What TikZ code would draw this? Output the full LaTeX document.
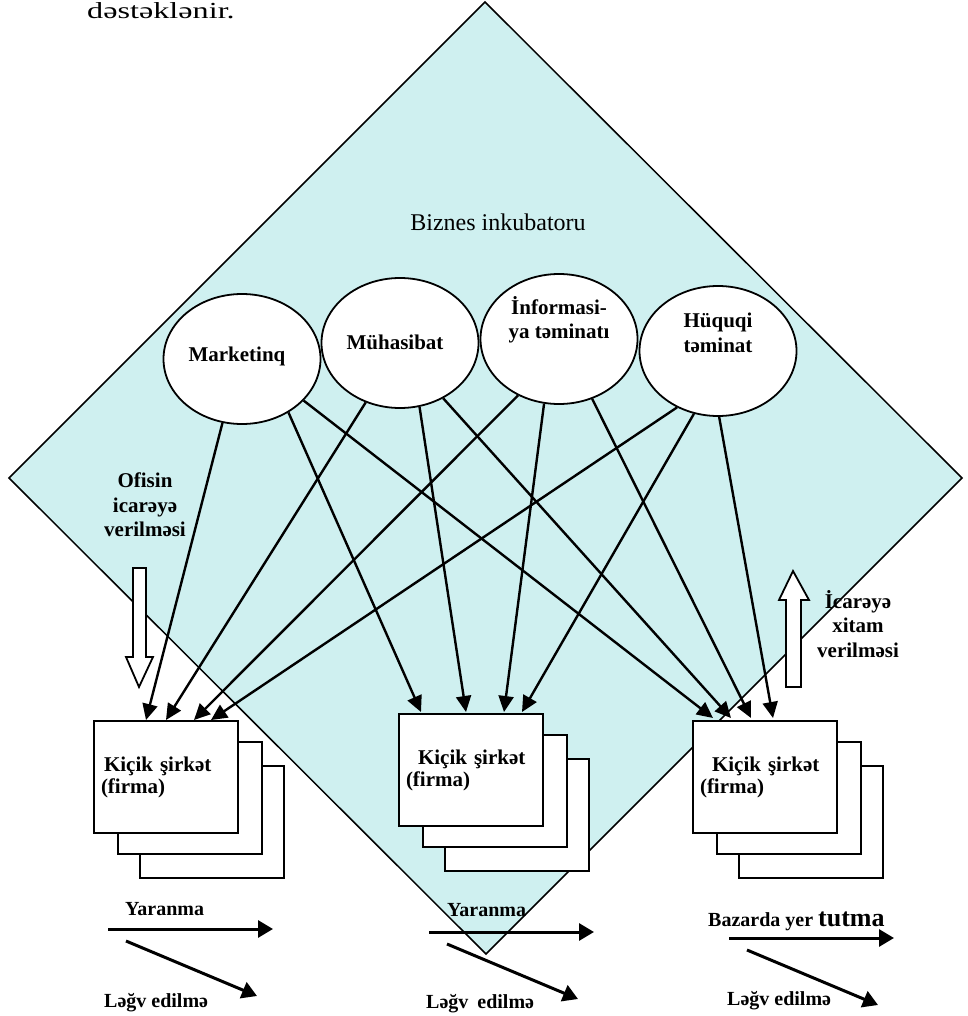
\documentclass[tikz,border=0pt]{standalone}
\usepackage{fontspec}
\setmainfont{Liberation Serif}
\usetikzlibrary{shapes.geometric,arrows.meta}

\definecolor{incub}{RGB}{207,240,240}

\tikzset{
  ell/.style={ellipse, draw, line width=1.8pt, fill=white, minimum width=157pt, minimum height=130pt, inner sep=0pt},
  firm/.style={rectangle, draw, line width=2pt, fill=white, minimum width=144pt, minimum height=112pt,
    text width=130pt, inner xsep=7pt, align=left, font=\bfseries\fontsize{21}{22}\selectfont},
  lbl/.style={font=\bfseries\fontsize{21}{24.5}\selectfont, align=center, inner sep=0pt},
  stagetxt/.style={font=\bfseries\fontsize{20}{24}\selectfont, inner sep=0pt, anchor=base west},
  feed/.style={line width=2.4pt, -{Triangle[length=16pt,width=15pt]}},
  stagearr/.style={line width=3pt, -{Triangle[length=15pt,width=17pt]}},
  blockarr/.style={draw, line width=1.8pt, fill=white}
}

\begin{document}
\begin{tikzpicture}[x=1pt, y=-1pt]
\useasboundingbox (0,0) rectangle (967,1016);

% the incubator
\filldraw[fill=incub, line width=1.5pt] (485,2) -- (962,478) -- (486,954) -- (9,478) -- cycle;
\node[anchor=base west, inner sep=0pt, font=\fontsize{23}{26}\selectfont] (prev) at (87,19) {\scalebox{1.4}[1]{dəstəklənir.}};
\node[anchor=base, inner sep=0pt, font=\fontsize{24}{28}\selectfont] (title) at (498,231) {Biznes inkubatoru};

% services
\node[ell] (mark) at (242,359) {};
\node[ell] (muha) at (400,343) {};
\node[ell] (info) at (559,339) {};
\node[ell] (huqu) at (718,351) {};
\node[lbl, xshift=-5pt, yshift=3pt] (markT) at (mark) {Marketinq};
\node[lbl, xshift=-5pt, yshift=1pt] (muhaT) at (muha) {Mühasibat};
\node[lbl, yshift=19pt] (infoT) at (info) {İnformasi-\\ya təminatı};
\node[lbl, yshift=18pt] (huquT) at (huqu) {Hüquqi\\təminat};

% small firms (stacks)
\foreach \n/\x/\y in {L/166/777, M/471/770, R/765/777} {
  \node[firm] (firm\n3) at (\x+46,\y+45) {};
  \node[firm] (firm\n2) at (\x+24,\y+21) {};
}
\node[firm] (firmL) at (166,777) {\hspace*{3pt}Kiçik şirkət\\(firma)};
\node[firm] (firmM) at (471,770) {\hspace*{12pt}Kiçik şirkət\\(firma)};
\node[firm] (firmR) at (765,777) {\hspace*{12pt}Kiçik şirkət\\(firma)};

% support links
\draw[feed] (mark.253) -- ([xshift=53pt]firmL.north west);
\draw[feed] (mark.-49) -- ([xshift=23pt,yshift=1pt]firmM.north west);
\draw[feed] (mark.-34) -- ([xshift=21pt,yshift=2pt]firmR.north west);
\draw[feed] (muha.240) -- ([xshift=73pt]firmL.north west);
\draw[feed] (muha.-73) -- ([xshift=68pt,yshift=1pt]firmM.north west);
\draw[feed] (muha.-52) -- ([xshift=39pt,yshift=2pt]firmR.north west);
\draw[feed] (info.234) -- ([xshift=101pt]firmL.north west);
\draw[feed] (info.257) -- ([xshift=106pt,yshift=1pt]firmM.north west);
\draw[feed] (info.-61) -- ([xshift=59pt,yshift=2pt]firmR.north west);
\draw[feed] (huqu.234) -- ([xshift=118pt]firmL.north west);
\draw[feed] (huqu.249) -- ([xshift=124pt,yshift=1pt]firmM.north west);
\draw[feed] (huqu.-89) -- ([xshift=81pt,yshift=2pt]firmR.north west);

% office lease in / out
\draw[blockarr] (133,568) -- (146,568) -- (146,657) -- (153,657) -- (139,687) -- (126,657) -- (133,657) -- cycle;
\draw[blockarr] (786,687) -- (801,687) -- (801,600) -- (809,600) -- (793,571) -- (779,600) -- (786,600) -- cycle;
\node[lbl] (leasein) at (145,505) {Ofisin\\icarəyə\\verilməsi};
\node[lbl] (leaseout) at (858,624) {İcarəyə\\xitam\\verilməsi};

% stages
\foreach \n/\x/\y in {L/108/929, M/429/932, R/729/938} {
  \coordinate (grow\n) at (\x,\y);
  \coordinate (fail\n) at (\x+18,\y+12);
  \draw[stagearr] (grow\n) -- ++(165,0);
  \draw[stagearr] (fail\n) -- ++(131,55);
}
\node[stagetxt] (yaraL) at (125,915) {Yaranma};
\node[stagetxt] (yaraM) at (447,916) {Yaranma};
\node[stagetxt] (bazar) at (708,926) {Bazarda yer {\fontsize{26}{30}\selectfont tutma}};
\node[stagetxt] (legvL) at (104,1007) {Ləğv edilmə};
\node[stagetxt] (legvM) at (426,1008) {Ləğv\hspace{4pt} edilmə};
\node[stagetxt] (legvR) at (727,1005) {Ləğv edilmə};
\end{tikzpicture}
\end{document}
